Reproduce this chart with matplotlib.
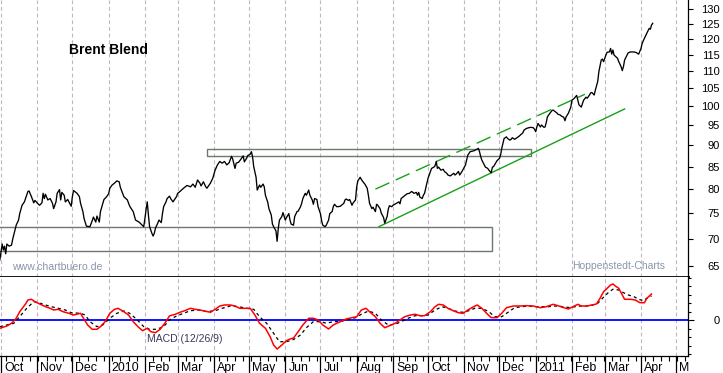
import numpy as np
import pandas as pd
import matplotlib
matplotlib.use("Agg")
import matplotlib.pyplot as plt
import matplotlib.dates as mdates
from matplotlib.patches import Rectangle
from matplotlib.ticker import FixedLocator, NullFormatter
from matplotlib.transforms import offset_copy

plt.rcParams['font.family'] = ['Liberation Sans', 'DejaVu Sans']

# ---------------------------------------------------------------------------
# Data (day offsets are counted from 2009-10-01)
# ---------------------------------------------------------------------------
START = np.datetime64('2009-10-01')

price_day = [
    -1, 1, 2, 3, 4, 5, 7, 9, 10, 12,
    13, 15, 16, 18, 20, 23, 24, 26, 28, 29,
    32, 33, 35, 36, 37, 38, 40, 42, 44, 45,
    47, 48, 50, 51, 52, 54, 55, 57, 60, 61,
    62, 65, 67, 68, 70, 71, 73, 76, 78, 79,
    81, 82, 84, 85, 87, 88, 90, 92, 93, 95,
    97, 99, 101, 102, 104, 105, 108, 110, 113, 115,
    118, 122, 123, 124, 125, 126, 127, 129, 130, 131,
    132, 134, 135, 137, 138, 139, 141, 142, 144, 145,
    147, 150, 151, 153, 156, 159, 162, 164, 166, 168,
    170, 171, 173, 175, 176, 179, 181, 183, 185, 187,
    189, 191, 193, 195, 197, 198, 200, 201, 203, 205,
    207, 208, 210, 211, 213, 214, 215, 216, 218, 219,
    221, 222, 224, 225, 226, 228, 229, 231, 232, 233,
    235, 236, 237, 238, 240, 241, 243, 244, 246, 247,
    248, 250, 251, 253, 254, 256, 257, 258, 260, 261,
    263, 264, 266, 267, 268, 270, 271, 273, 274, 275,
    277, 278, 280, 281, 283, 284, 285, 287, 288, 290,
    291, 293, 294, 295, 297, 298, 300, 301, 303, 304,
    305, 307, 308, 310, 311, 313, 314, 315, 317, 318,
    320, 321, 322, 324, 325, 327, 328, 330, 331, 332,
    334, 335, 338, 340, 341, 342, 344, 347, 349, 351,
    353, 355, 356, 357, 358, 360, 361, 362, 364, 365,
    367, 368, 370, 371, 372, 373, 374, 376, 378, 379,
    381, 382, 384, 385, 387, 388, 389, 391, 392, 394,
    395, 397, 398, 399, 401, 404, 407, 408, 409, 410,
    411, 413, 414, 416, 417, 419, 420, 421, 423, 424,
    426, 427, 428, 429, 430, 432, 433, 435, 436, 437,
    439, 440, 442, 443, 444, 446, 447, 449, 451, 453,
    455, 456, 457, 458, 459, 461, 462, 464, 465, 466,
    467, 469, 471, 472, 474, 475, 476, 478, 479, 481,
    482, 483, 485, 487, 488, 490, 492, 493, 494, 496,
    497, 498, 500, 501, 503, 504, 505, 507, 508, 510,
    511, 513, 514, 515, 517, 518, 520, 521, 522, 523,
    524, 525, 527, 528, 530, 531, 532, 533, 535, 536,
    538, 541, 543, 545, 547, 548, 550, 552, 553, 554,
    555, 556, 557,
]
price_close = [
    66.1, 69.0, 67.9, 68.6, 67.2, 69.0, 68.6, 68.8, 69.9, 71.7,
    72.6, 73.6, 74.9, 76.6, 77.3, 79.5, 79.6, 78.4, 77.1, 77.6,
    76.8, 76.6, 77.1, 79.1, 78.0, 78.9, 77.7, 78.0, 77.0, 75.9,
    77.3, 79.1, 79.9, 77.7, 79.3, 78.7, 77.3, 77.8, 76.4, 78.4,
    79.7, 79.1, 78.4, 77.0, 75.3, 73.9, 72.4, 72.3, 73.5, 74.2,
    73.2, 74.4, 73.2, 75.3, 77.0, 77.8, 78.3, 79.0, 80.2, 80.9,
    81.3, 81.8, 81.6, 80.4, 79.1, 78.4, 77.7, 76.4, 75.3, 73.6,
    73.2, 72.3, 73.9, 75.7, 77.3, 74.6, 72.3, 71.0, 70.5, 71.0,
    72.0, 73.0, 73.6, 73.1, 74.9, 76.3, 77.3, 78.0, 78.5, 78.0,
    77.3, 78.4, 79.1, 79.5, 80.2, 80.8, 80.5, 81.1, 80.4, 82.0,
    81.3, 80.7, 81.6, 80.5, 80.2, 81.3, 82.4, 84.2, 85.4, 86.2,
    85.8, 86.2, 85.4, 85.9, 87.4, 86.8, 84.6, 85.8, 86.0, 86.7,
    87.5, 86.1, 87.0, 87.6, 87.9, 88.5, 87.3, 85.0, 82.6, 79.8,
    80.9, 80.4, 81.1, 80.5, 78.7, 77.2, 75.9, 74.6, 72.8, 72.3,
    71.5, 69.5, 72.0, 73.6, 74.3, 75.1, 73.6, 74.1, 74.9, 73.6,
    72.8, 72.6, 74.3, 75.3, 75.4, 76.3, 77.0, 78.0, 79.1, 78.7,
    79.8, 78.7, 77.7, 76.8, 78.0, 77.8, 76.3, 74.9, 73.5, 72.6,
    72.3, 72.6, 73.6, 74.9, 75.3, 76.3, 76.8, 76.3, 76.3, 76.4,
    76.6, 77.0, 77.7, 77.9, 77.6, 77.8, 76.6, 77.1, 77.7, 80.5,
    81.8, 82.6, 82.1, 81.4, 81.1, 80.2, 78.7, 77.0, 75.9, 76.2,
    75.3, 76.8, 76.6, 75.9, 75.0, 74.1, 73.0, 74.3, 75.8, 76.5,
    76.3, 76.6, 77.0, 77.3, 76.9, 78.0, 78.4, 79.0, 79.1, 79.5,
    79.1, 79.3, 78.7, 79.3, 78.3, 78.0, 78.7, 79.1, 81.3, 82.4,
    83.9, 84.6, 84.9, 85.2, 86.2, 84.6, 84.9, 84.2, 84.4, 83.9,
    83.5, 83.1, 82.9, 83.1, 83.5, 83.1, 83.3, 83.9, 83.1, 83.9,
    84.4, 85.4, 86.5, 87.7, 88.5, 88.7, 89.1, 89.3, 88.5, 87.3,
    86.5, 85.4, 84.9, 84.6, 84.2, 83.6, 84.9, 85.0, 85.9, 86.4,
    86.9, 87.7, 89.3, 90.5, 91.7, 92.1, 91.7, 91.3, 91.5, 91.9,
    91.5, 91.7, 92.1, 92.3, 92.6, 93.1, 93.8, 94.2, 94.4, 94.5,
    94.4, 94.0, 93.4, 94.6, 95.5, 94.6, 95.1, 94.5, 94.6, 95.7,
    97.2, 98.1, 98.9, 99.0, 98.5, 98.3, 97.9, 97.7, 97.4, 97.1,
    96.2, 97.2, 98.2, 99.8, 101.7, 102.2, 103.0, 101.7, 100.4, 99.8,
    100.8, 101.7, 102.5, 102.2, 103.1, 103.7, 103.8, 103.1, 104.5, 106.9,
    109.8, 113.3, 113.6, 112.8, 114.8, 115.7, 115.8, 116.9, 115.1, 116.4,
    114.8, 114.5, 113.8, 112.8, 111.3, 110.1, 111.3, 113.3, 114.8, 115.5,
    115.8, 115.8, 115.6, 115.1, 116.9, 118.5, 120.2, 121.8, 122.6, 123.4,
    123.1, 124.5, 125.1,
]

macd_day = [
    -1, 5, 9, 13, 16, 21, 23, 26, 29, 33,
    38, 42, 45, 49, 53, 58, 62, 68, 70, 74,
    78, 82, 85, 89, 93, 97, 100, 105, 109, 113,
    117, 121, 125, 128, 132, 136, 140, 144, 149, 153,
    157, 162, 166, 170, 174, 179, 183, 187, 191, 196,
    200, 204, 209, 213, 217, 221, 226, 230, 233, 236,
    240, 244, 247, 250, 254, 258, 263, 267, 271, 275,
    280, 284, 290, 295, 300, 304, 308, 312, 315, 320,
    324, 328, 332, 337, 341, 345, 350, 354, 358, 362,
    367, 371, 374, 378, 382, 387, 391, 395, 399, 404,
    407, 411, 415, 419, 424, 428, 432, 438, 444, 449,
    455, 461, 466, 472, 476, 481, 485, 489, 493, 496,
    501, 505, 509, 512, 515, 518, 521, 523, 525, 528,
    531, 533, 538, 542, 546, 550, 552, 556,
]
macd_line = [
    -0.94, -0.67, -0.35, 0.24, 1.01, 1.92, 2.39, 2.47, 2.19, 1.92,
    1.60, 1.41, 1.21, 1.29, 1.01, 0.82, 0.62, 0.82, 0.35, -0.55,
    -1.06, -1.06, -0.75, -0.16, 0.82, 1.29, 1.41, 1.01, 0.62, -0.16,
    -0.75, -1.22, -0.94, -1.34, -1.46, -1.06, -0.35, 0.51, 0.71, 0.94,
    1.13, 1.41, 1.29, 1.21, 1.09, 0.94, 1.29, 1.68, 1.80, 1.80,
    1.68, 1.41, 1.41, 1.41, 0.62, -0.35, -0.94, -1.93, -2.91, -3.38,
    -2.91, -2.40, -2.20, -2.08, -1.34, -0.55, 0.24, 0.24, 0.04, -0.55,
    -1.02, -0.55, -0.16, 0.15, 0.31, 0.42, 1.21, 1.41, 1.01, 0.42,
    -0.35, -0.87, -0.64, -0.35, 0.04, 0.42, 0.62, 0.71, 0.54, 0.54,
    1.01, 1.60, 1.88, 1.80, 1.41, 1.09, 0.89, 0.82, 1.21, 1.60,
    1.80, 1.41, 0.82, 0.31, 0.31, 0.82, 1.48, 1.68, 1.68, 1.72,
    1.68, 1.48, 1.60, 1.88, 1.72, 1.48, 1.33, 1.60, 1.88, 1.68,
    1.68, 1.80, 1.92, 2.59, 3.36, 3.76, 4.15, 4.27, 4.04, 3.76,
    2.98, 2.47, 2.47, 2.39, 2.07, 2.07, 2.59, 3.09,
]

signal_day = [
    -1, 5, 11, 16, 22, 28, 32, 38, 43, 49,
    55, 60, 68, 72, 76, 82, 87, 93, 99, 105,
    110, 116, 122, 127, 133, 139, 144, 150, 156, 162,
    169, 176, 183, 189, 196, 203, 210, 216, 221, 227,
    233, 238, 244, 250, 256, 261, 267, 273, 278, 284,
    290, 295, 303, 308, 314, 320, 325, 331, 337, 342,
    348, 354, 360, 365, 371, 377, 382, 388, 394, 399,
    405, 411, 417, 422, 428, 434, 439, 445, 451, 456,
    462, 468, 474, 479, 485, 491, 495, 501, 506, 510,
    515, 519, 523, 528, 532, 536, 541, 545, 549, 552,
    556,
]
signal_line = [
    -0.75, -0.55, -0.35, 0.42, 1.41, 2.19, 2.07, 1.80, 1.60, 1.41,
    1.21, 0.89, 0.82, 0.62, -0.16, -0.75, -0.55, 0.24, 0.82, 1.09,
    0.82, 0.12, -0.75, -1.06, -1.06, -0.75, 0.04, 0.51, 0.82, 1.13,
    1.21, 1.01, 1.13, 1.41, 1.68, 1.60, 1.41, 1.29, 0.42, -0.35,
    -1.53, -2.52, -2.52, -2.26, -1.73, -0.87, -0.16, -0.16, -0.35, -0.16,
    -0.16, 0.04, 0.31, 0.71, 1.09, 0.82, 0.04, -0.55, -0.47, -0.16,
    0.24, 0.54, 0.54, 0.62, 1.21, 1.60, 1.41, 1.09, 0.94, 1.09,
    1.41, 1.41, 1.01, 0.42, 0.42, 1.01, 1.48, 1.60, 1.68, 1.60,
    1.60, 1.60, 1.68, 1.62, 1.51, 1.60, 1.68, 1.68, 1.80, 2.00,
    2.71, 3.25, 3.65, 3.56, 3.25, 2.98, 2.78, 2.47, 2.31, 2.59,
    2.86,
]

# support / resistance boxes: (first day, last day, low, high)
box_top = (176, 453, 87.4, 89.1)
box_low = (-3, 420, 67.7, 72.2)
# trend channel (two end points each)
trend_low_day, trend_low_price = [323, 533], [72.3, 99.3]
trend_high_day, trend_high_price = [320, 499], [80.0, 103.3]

price_ticks = list(range(65, 131, 5))
month_labels = ['Oct', 'Nov', 'Dec', '2010', 'Feb', 'Mar', 'Apr', 'May', 'Jun', 'Jul',
                'Aug', 'Sep', 'Oct', 'Nov', 'Dec', '2011', 'Feb', 'Mar', 'Apr', 'M']


def as_dates(days):
    return START + np.asarray(days).astype('timedelta64[D]')


W, H = 723, 373
GRID = '#c4b6c4'
NOTE = '#8996ab'

fig = plt.figure(figsize=(W / 100, H / 100), dpi=100)
ax_p = fig.add_axes([0, 1 - 277 / H, 688 / W, 277 / H])
ax_m = fig.add_axes([0, 1 - 355.5 / H, 688 / W, 78.5 / H], sharex=ax_p)

# --- price panel -----------------------------------------------------------
ax_p.set_yscale('log')
ax_p.plot(as_dates(price_day), price_close, color='black', lw=0.95, zorder=4)

for d0, d1, lo, hi in (box_top, box_low):
    x0, x1 = mdates.date2num(as_dates([d0, d1]))
    ax_p.add_patch(Rectangle((x0, lo), x1 - x0, hi - lo, fill=False,
                             edgecolor='#6e786e', lw=1.0, zorder=3))

ax_p.plot(as_dates(trend_low_day), trend_low_price, color='#18a018', lw=1.0, zorder=3)
ax_p.plot(as_dates(trend_high_day), trend_high_price, color='#18a018', lw=1.0,
          linestyle=(0, (11, 5)), zorder=3)

ax_p.set_ylim(63.13, 133.2)
ax_p.yaxis.set_major_locator(FixedLocator(price_ticks))
ax_p.yaxis.set_minor_locator(FixedLocator([]))
ax_p.set_yticklabels([str(v) for v in price_ticks])
ax_p.tick_params(axis='y', which='major', left=False, labelleft=False, right=True,
                 labelright=True, length=3.6, width=0.8, pad=19.4, labelsize=8)
for lbl in ax_p.get_yticklabels():
    lbl.set_horizontalalignment('right')
ax_p.tick_params(axis='x', which='both', length=0, labelbottom=False)

for side in ('top', 'left'):
    ax_p.spines[side].set_visible(False)
ax_p.spines['bottom'].set_linewidth(2.0)
ax_p.spines['right'].set_linewidth(0.9)

# --- MACD panel ------------------------------------------------------------
ax_m.axhline(0, color='#0000ff', lw=1.3, zorder=2)
ax_m.plot(as_dates(signal_day), signal_line, color='black', lw=0.9,
          linestyle=(0, (2.5, 2.5)), zorder=3)
ax_m.plot(as_dates(macd_day), macd_line, color='#ff0000', lw=1.1, zorder=4)
ax_m.set_ylim(-4.14, 5.09)
ax_m.yaxis.set_major_locator(FixedLocator([0]))
ax_m.yaxis.set_minor_locator(FixedLocator(list(range(-4, 6))))
ax_m.yaxis.set_minor_formatter(NullFormatter())
ax_m.set_yticklabels(['0'])
ax_m.tick_params(axis='y', which='major', left=False, labelleft=False, right=True,
                 labelright=True, length=4.0, width=0.8, pad=19.0, labelsize=8)
ax_m.tick_params(axis='y', which='minor', left=False, right=True, length=1.8, width=0.8)
for lbl in ax_m.get_yticklabels():
    lbl.set_horizontalalignment('right')
for side in ('top', 'left'):
    ax_m.spines[side].set_visible(False)
ax_m.spines['bottom'].set_linewidth(0.9)
ax_m.spines['right'].set_linewidth(0.9)

# --- shared time axis ------------------------------------------------------
day0 = mdates.date2num(START)
ax_p.set_xlim(day0 - 1 / 1.17, day0 + 687 / 1.17)
ax_m.xaxis.set_major_locator(mdates.MonthLocator())
ax_m.xaxis.set_minor_locator(mdates.WeekdayLocator(byweekday=mdates.MO))
ax_m.xaxis.set_major_formatter(NullFormatter())
ax_m.xaxis.set_minor_formatter(NullFormatter())
ax_m.tick_params(axis='x', which='major', direction='out', length=13, width=0.9,
                 labelbottom=False)
ax_m.tick_params(axis='x', which='minor', direction='out', length=3.5, width=0.8)

for ax in (ax_p, ax_m):
    ax.set_axisbelow(True)
    ax.grid(axis='x', which='major', color=GRID, lw=0.8, linestyle=(0, (3.5, 2.5)))
    ax.set_facecolor('white')

months = pd.date_range('2009-10-01', '2011-05-01', freq='MS')
lab_tr = offset_copy(ax_m.get_xaxis_transform(), fig=fig, x=3, y=0, units='dots')
for m, txt in zip(months, month_labels):
    ax_m.text(mdates.date2num(m), -0.197, txt, transform=lab_tr, ha='left',
              va='baseline', fontsize=8.9, color='black', clip_on=False)

# --- annotations -----------------------------------------------------------
fig.text(69 / W, 1 - 50 / H, 'Brent Blend', fontsize=10, fontweight='bold',
         va='center', ha='left')
fig.text(12 / W, 1 - 267 / H, 'www.chartbuero.de', fontsize=7.6, color=NOTE,
         va='center', ha='left')
fig.text(572 / W, 1 - 266 / H, 'Hoppenstedt-Charts', fontsize=7.5, color=NOTE,
         va='center', ha='left')
fig.text(147 / W, 1 - 339.3 / H, 'MACD (12/26/9)', fontsize=7.5, color='#3a3a5a',
         va='center', ha='left')

fig.savefig('out.png', dpi=100)
plt.close(fig)
